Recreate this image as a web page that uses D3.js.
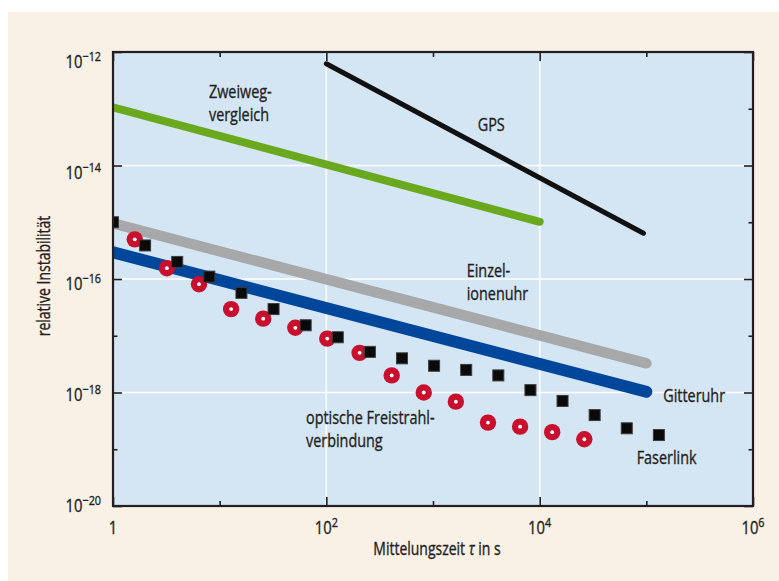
<!DOCTYPE html>
<html>
<head>
<meta charset="utf-8">
<script src="https://cdn.jsdelivr.net/npm/d3@7"></script>
<style>
  html, body { margin: 0; padding: 0; background: #ffffff; }
  svg { display: block; }
  text { font-family: 'Open Sans', 'Noto Sans', sans-serif; fill: #231f20; stroke: #231f20; stroke-width: 0.35; }
</style>
</head>
<body>
<svg id="chart" width="779" height="581"></svg>
<script>
// ---------- data ----------
const xTickValues = [1, 1e1, 1e2, 1e3, 1e4, 1e5, 1e6];
const xLabelExps = [0, 2, 4, 6];
const yTickValues = [1e-12, 1e-13, 1e-14, 1e-15, 1e-16, 1e-17, 1e-18, 1e-19, 1e-20];
const yLabelExps = [-12, -14, -16, -18, -20];

// lines: [tau, sigma]
const gpsTau = [100, 9.4e4];
const gpsVal = [6.2e-13, 6.4e-16];
const zweiwegTau = [1, 1e4];
const zweiwegVal = [1.06e-13, 1.02e-15];
const einzelTau = [1, 1e5];
const einzelVal = [9.6e-16, 3.27e-18];
const gitterTau = [1, 1e5];
const gitterVal = [2.96e-16, 1.03e-18];

// optische Freistrahlverbindung (red circles)
const freiTau = [1.6, 3.2, 6.4, 12.8, 25.6, 51.2, 102, 205, 410, 819, 1638, 3277, 6554, 13107, 26214];
const freiVal = [5.0e-16, 1.55e-16, 8.1e-17, 2.95e-17, 2.0e-17, 1.38e-17, 8.9e-18, 5.0e-18, 2.0e-18, 1.0e-18, 6.9e-19, 2.95e-19, 2.5e-19, 2.0e-19, 1.5e-19];

// Faserlink (black squares)
const faserTau = [1, 2, 4, 8, 16, 32, 64, 128, 256, 512, 1024, 2048, 4096, 8192, 16384, 32768, 65536, 131072];
const faserVal = [1.0e-15, 3.9e-16, 2.0e-16, 1.1e-16, 5.7e-17, 2.95e-17, 1.53e-17, 9.4e-18, 5.2e-18, 4.0e-18, 2.96e-18, 2.5e-18, 2.0e-18, 1.1e-18, 7.1e-19, 4.0e-19, 2.34e-19, 1.78e-19];

const labelLines = [
  ["Zweiweg-", "vergleich"],
  ["GPS"],
  ["Einzel-", "ionenuhr"],
  ["Gitteruhr"],
  ["Faserlink"],
  ["optische Freistrahl-", "verbindung"]
];
// label anchors in data units [tau, sigma] of first-line baseline (left edge)
const labelTau = [7.94, 2624, 2070, 1.44e5, 8.12e4, 64.5];
const labelVal = [1.57e-13, 4.1e-14, 1.1e-16, 6.9e-19, 5.5e-20, 2.79e-19];

const xTitle = "Mittelungszeit ";
const yTitle = "relative Instabilität";

// ---------- layout ----------
const svg = d3.select("#chart");
const L = 113, R = 753, T = 52, B = 506;
const x = d3.scaleLog().domain([1, 1e6]).range([L, R]);
const y = d3.scaleLog().domain([1e-20, 1e-12]).range([B, T]);
const ink = "#231f20";
const SX = 0.8; // horizontal condensing of the font

function ctext(parent, px, py, size, anchor, extra) {
  const g = parent.append("g").attr("transform", `translate(${px},${py}) ${extra || ""} scale(${SX},1)`);
  return g.append("text").attr("x", 0).attr("y", 0).attr("font-size", size).attr("text-anchor", anchor || "start");
}

// background
svg.append("rect").attr("x", 8).attr("y", 12).attr("width", 771).attr("height", 569).attr("fill", "#f9f0e6");
svg.append("rect").attr("x", L).attr("y", T).attr("width", R - L).attr("height", B - T).attr("fill", "#d4e5f4");

// gridlines
const gx = [1e2, 1e4], gy = [1e-14, 1e-16, 1e-18];
svg.append("g").selectAll("line").data(gx).join("line")
  .attr("x1", d => x(d)).attr("x2", d => x(d)).attr("y1", T).attr("y2", B)
  .attr("stroke", "#ffffff").attr("stroke-width", 1.5);
svg.append("g").selectAll("line").data(gy).join("line")
  .attr("x1", L).attr("x2", R).attr("y1", d => y(d)).attr("y2", d => y(d))
  .attr("stroke", "#ffffff").attr("stroke-width", 1.5);

// axes (inward ticks)
const isMajorX = d => Math.round(Math.log10(d)) % 2 === 0;
const isMajorY = d => Math.abs(Math.round(Math.log10(d))) % 2 === 0;
function addAxis(gen, tx, ty, values, len) {
  const g = svg.append("g").attr("transform", `translate(${tx},${ty})`)
    .call(gen.tickValues(values).tickSize(len).tickFormat(""));
  g.select(".domain").remove();
  g.selectAll(".tick line").attr("stroke", ink).attr("stroke-width", 1.6);
}
addAxis(d3.axisBottom(x), 0, B, xTickValues.filter(isMajorX), -9);
addAxis(d3.axisBottom(x), 0, B, xTickValues.filter(d => !isMajorX(d)), -5);
addAxis(d3.axisTop(x), 0, T, xTickValues.filter(isMajorX), -9);
addAxis(d3.axisTop(x), 0, T, xTickValues.filter(d => !isMajorX(d)), -5);
addAxis(d3.axisLeft(y), L, 0, yTickValues.filter(isMajorY), -9);
addAxis(d3.axisLeft(y), L, 0, yTickValues.filter(d => !isMajorY(d)), -4.5);
addAxis(d3.axisRight(y), R, 0, yTickValues.filter(isMajorY), -9);
addAxis(d3.axisRight(y), R, 0, yTickValues.filter(d => !isMajorY(d)), -4.5);

// clip for data
svg.append("clipPath").attr("id", "plotclip").append("rect")
  .attr("x", L).attr("y", T).attr("width", R - L).attr("height", B - T);
const plot = svg.append("g").attr("clip-path", "url(#plotclip)");

const line = d3.line().x(d => x(d[0])).y(d => y(d[1]));
const zip = (a, b) => a.map((v, i) => [v, b[i]]);

const lines = [
  { tau: einzelTau, val: einzelVal, color: "#a7a8aa", w: 10.5 },
  { tau: gitterTau, val: gitterVal, color: "#00469b", w: 12 },
  { tau: zweiwegTau, val: zweiwegVal, color: "#6aa81e", w: 8 },
  { tau: gpsTau, val: gpsVal, color: "#111111", w: 5 }
];
plot.selectAll("path.series").data(lines).join("path")
  .attr("class", "series")
  .attr("d", d => line(zip(d.tau, d.val)))
  .attr("fill", "none").attr("stroke", d => d.color).attr("stroke-width", d => d.w)
  .attr("stroke-linecap", "round").attr("stroke-linejoin", "round");

// red circles
const frei = zip(freiTau, freiVal);
plot.append("g").selectAll("circle").data(frei).join("circle")
  .attr("cx", d => x(d[0])).attr("cy", d => y(d[1])).attr("r", 8.2).attr("fill", "#c8102e");
plot.append("g").selectAll("circle").data(frei).join("circle")
  .attr("cx", d => x(d[0])).attr("cy", d => y(d[1])).attr("r", 1.9).attr("fill", "#ffffff");

// black squares
const faser = zip(faserTau, faserVal);
const s = 11;
plot.append("g").selectAll("rect").data(faser).join("rect")
  .attr("x", d => x(d[0]) - s / 2).attr("y", d => y(d[1]) - s / 2)
  .attr("width", s).attr("height", s)
  .attr("fill", "#0a0a0a").attr("stroke", "#3c3c3c").attr("stroke-width", 1);

// frame
svg.append("rect").attr("x", L).attr("y", T).attr("width", R - L).attr("height", B - T)
  .attr("fill", "none").attr("stroke", ink).attr("stroke-width", 2.2);

// series labels
labelLines.forEach((lns, i) => {
  const t = ctext(svg, x(labelTau[i]), y(labelVal[i]), 18, "start");
  lns.forEach((ln, j) => {
    t.append("tspan").attr("x", 0).attr("dy", j === 0 ? 0 : 23.3).text(ln);
  });
});

// y tick labels
const yShift = d3.scaleLinear().domain([-12, -20]).range([15.7, 5.7]);
yLabelExps.forEach(e => {
  const t = ctext(svg, 101, y(Math.pow(10, e)) + yShift(e), 18.5, "end");
  t.append("tspan").text("10");
  t.append("tspan").attr("dy", -7).attr("font-size", 13.5).text("\u2212" + Math.abs(e));
});

// x tick labels
xLabelExps.forEach(e => {
  const t = ctext(svg, x(Math.pow(10, e)), 534, 18.5, "middle");
  if (e === 0) { t.text("1"); return; }
  t.append("tspan").text("10");
  t.append("tspan").attr("dy", -7).attr("font-size", 13.5).text(String(e));
});

// axis titles
const xt = ctext(svg, 437, 555, 17.5, "middle");
xt.append("tspan").text(xTitle);
xt.append("tspan").attr("font-style", "italic").text("\u03c4");
xt.append("tspan").text(" in s");

ctext(svg, 50, 276, 17.5, "middle", "rotate(-90)").text(yTitle);
</script>
</body>
</html>
